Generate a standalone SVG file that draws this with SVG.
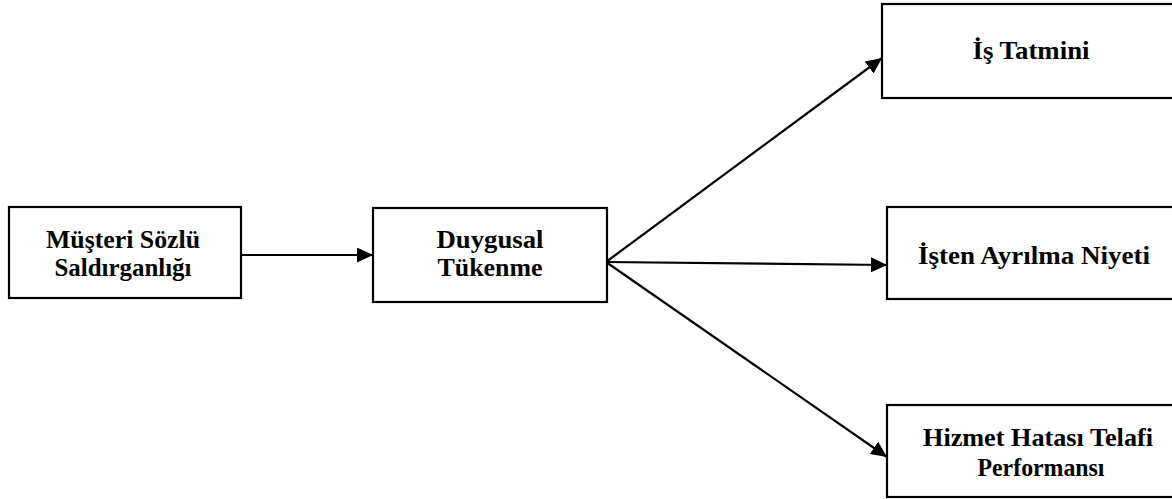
<svg xmlns="http://www.w3.org/2000/svg" width="1172" height="499" viewBox="0 0 1172 499">
<style>
.box{fill:#fff;stroke:#000;stroke-width:2.2}
.lbl{font-family:"Liberation Serif","Times New Roman",serif;font-weight:bold;font-size:25px;fill:#000;text-anchor:middle}
.conn{stroke:#000;stroke-width:2.2;fill:none;marker-end:url(#ah)}
</style>
<defs>
<marker id="ah" markerUnits="userSpaceOnUse" markerWidth="17" markerHeight="15" refX="16" refY="7.5" orient="auto">
<path d="M0,0 L16,7.5 L0,15 z" fill="#000"/>
</marker>
</defs>
<rect width="1172" height="499" fill="#fff"/>
<g id="connectors">
<line class="conn" x1="241" y1="255" x2="373" y2="255"/>
<line class="conn" x1="606" y1="262" x2="882" y2="58"/>
<line class="conn" x1="606" y1="262" x2="887" y2="265"/>
<line class="conn" x1="606" y1="262" x2="887" y2="457"/>
</g>
<g id="node-msa">
<rect class="box" x="9" y="207" width="232" height="91"/>
<text class="lbl" x="123" y="248" textLength="154" lengthAdjust="spacingAndGlyphs">Müşteri Sözlü</text>
<text class="lbl" x="123" y="276" textLength="137" lengthAdjust="spacingAndGlyphs">Saldırganlığı</text>
</g>
<g id="node-dt">
<rect class="box" x="373" y="208" width="234" height="94"/>
<text class="lbl" x="490" y="248" textLength="107" lengthAdjust="spacingAndGlyphs">Duygusal</text>
<text class="lbl" x="490" y="276" textLength="105" lengthAdjust="spacingAndGlyphs">Tükenme</text>
</g>
<g id="node-it">
<rect class="box" x="882" y="4" width="300" height="94"/>
<text class="lbl" x="1031" y="59" textLength="117" lengthAdjust="spacingAndGlyphs">İş Tatmini</text>
</g>
<g id="node-ian">
<rect class="box" x="887" y="207" width="300" height="92"/>
<text class="lbl" x="1034" y="264" textLength="232" lengthAdjust="spacingAndGlyphs">İşten Ayrılma Niyeti</text>
</g>
<g id="node-hhtp">
<rect class="box" x="887" y="405" width="300" height="92"/>
<text class="lbl" x="1038" y="446" textLength="230" lengthAdjust="spacingAndGlyphs">Hizmet Hatası Telafi</text>
<text class="lbl" x="1041" y="476" textLength="127" lengthAdjust="spacingAndGlyphs">Performansı</text>
</g>
</svg>
